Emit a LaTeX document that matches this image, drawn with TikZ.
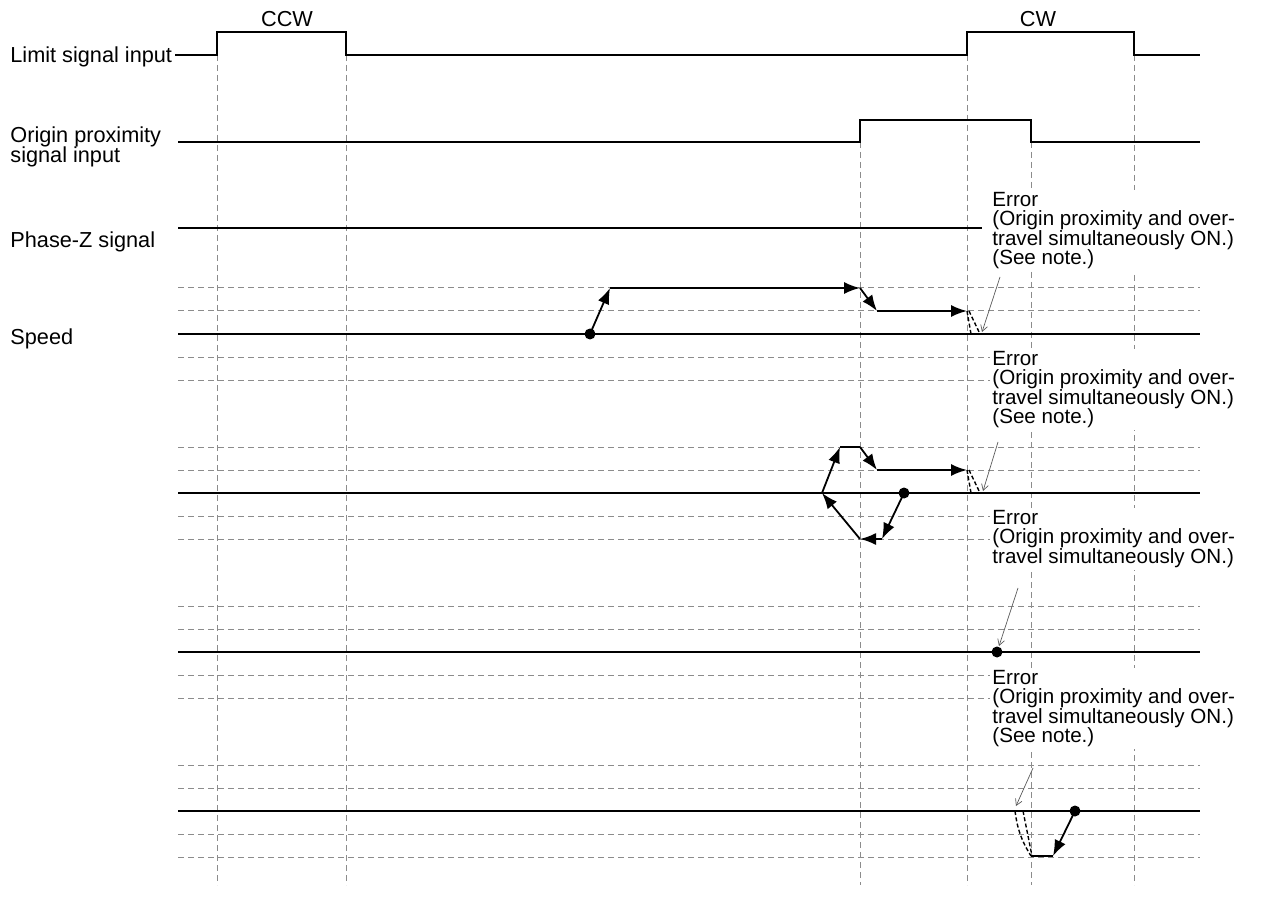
\documentclass[tikz,border=0pt]{standalone}
\usepackage{fontspec}
\setmainfont{Liberation Sans}
\usetikzlibrary{arrows.meta}
\definecolor{gridline}{HTML}{8C8C8C}
\definecolor{callout}{HTML}{5A5A5A}
\newcommand\chartfont{\fontsize{10.85}{10.2}\selectfont\lineskiplimit -20pt\relax}
\newcommand\notefont{\fontsize{10.3}{9.7}\selectfont\lineskiplimit -20pt\relax}

\begin{document}
\begin{tikzpicture}[x=0.5pt,y=-0.5pt,>=Latex,
  font=\chartfont,
  lbl/.style={inner sep=0pt},
  sig/.style={line width=0.7pt,line join=miter},
  gridv/.style={gridline,line width=0.5pt,dash pattern=on 3pt off 2pt},
  gridh/.style={gridline,line width=0.5pt,dash pattern=on 3pt off 2pt},
  zero/.style={line width=1.2pt},
  mv/.style={line width=0.9pt,-{Latex[length=8pt,width=6pt]}},
  flat/.style={line width=0.9pt},
  decel/.style={line width=0.7pt,dash pattern=on 2pt off 1.2pt},
  errnote/.style={anchor=north west,align=left,fill=white,inner sep=1pt,font=\notefont},
  pointer/.style={callout,line width=0.35pt,-{Straight Barb[length=3pt,width=3.5pt]}},
  dot/.style={circle,fill,inner sep=0pt,minimum size=5.5pt}]
\useasboundingbox (0,0) rectangle (1262,898);

\foreach \x/\top in {217/55,346/55,860/142,967/55,1031/142,1134/55}
  \draw[gridv] (\x,\top) -- (\x,885);
\foreach \y in {334,493,652,811}
  \foreach \d in {-46,-23,23,46}
    \draw[gridh] (178,\y+\d) -- (1200,\y+\d);

\node[errnote] (n1) at (990,190) {Error\\(Origin proximity and over-\\travel simultaneously ON.)\\(See note.)};
\node[errnote] (n2) at (990,349) {Error\\(Origin proximity and over-\\travel simultaneously ON.)\\(See note.)};
\node[errnote] (n3) at (990,508) {Error\\(Origin proximity and over-\\travel simultaneously ON.)};
\node[errnote] (n4) at (990,668) {Error\\(Origin proximity and over-\\travel simultaneously ON.)\\(See note.)};

\node[lbl,anchor=base west] (limit) at (10,63) {Limit signal input};
\node[lbl,anchor=west,align=left] (origin) at (10,147) {Origin proximity\\signal input};
\node[lbl,anchor=base west] (phasez) at (10,248) {Phase-Z signal};
\node[lbl,anchor=base west] (speed) at (10,344) {Speed};
\node[lbl,anchor=base] (ccw) at (287,27) {CCW};
\node[lbl,anchor=base] (cw) at (1038,27) {CW};

\draw[sig] (175,55) -- (217,55) -- (217,32) -- (346,32) -- (346,55) -- (967,55)
  -- (967,32) -- (1134,32) -- (1134,55) -- (1200,55);
\draw[sig] (178,142) -- (860,142) -- (860,120) -- (1031,120) -- (1031,142) -- (1200,142);
\draw[sig] (178,228) -- (982,228);
\foreach \y in {334,493,652,811}
  \draw[zero] (178,\y) -- (1200,\y);

% first search
\node[dot] (s1) at (590,334) {};
\coordinate (a1) at (610,288);
\coordinate (b1) at (860,288);
\coordinate (c1) at (877,311);
\coordinate (d1) at (967,311);
\draw[mv] (s1.center) -- (a1);
\draw[mv] (a1) -- (b1);
\draw[mv] (b1) -- (c1);
\draw[mv] (c1) -- (d1);
\draw[decel] (d1) -- (971,334);
\draw[decel] (969,311) -- (980,334);
\coordinate (t1) at (982,332);
\draw[pointer] (1000,277) -- (t1);

% second search
\node[dot] (s2) at (904,493) {};
\coordinate (a2) at (882,539);
\coordinate (b2) at (860,539);
\coordinate (c2) at (822,493);
\coordinate (d2) at (840,447);
\coordinate (e2) at (860,447);
\coordinate (f2) at (877,470);
\coordinate (g2) at (967,470);
\draw[mv] (s2.center) -- (a2);
\draw[mv] (a2) -- (b2);
\draw[mv] (b2) -- (c2);
\draw[mv] (c2) -- (d2);
\draw[flat] (d2) -- (e2);
\draw[mv] (e2) -- (f2);
\draw[mv] (f2) -- (g2);
\draw[decel] (g2) -- (971,493);
\draw[decel] (969,470) -- (980,493);
\coordinate (t2) at (983,491);
\draw[pointer] (998,442) -- (t2);

% third search
\node[dot] (s3) at (997,652) {};
\coordinate (t3) at (999,646);
\draw[pointer] (1018,588) -- (t3);

% fourth search
\node[dot] (s4) at (1075,811) {};
\coordinate (a4) at (1053,856);
\coordinate (b4) at (1031,856);
\draw[mv] (s4.center) -- (a4);
\draw[flat] (a4) -- (b4);
\draw[decel] (1015,811) to[bend right=12] (b4);
\draw[decel] (1023,811) -- (1032,856);
\coordinate (t4) at (1016,806);
\draw[pointer] (1033,768) -- (t4);
\end{tikzpicture}
\end{document}
